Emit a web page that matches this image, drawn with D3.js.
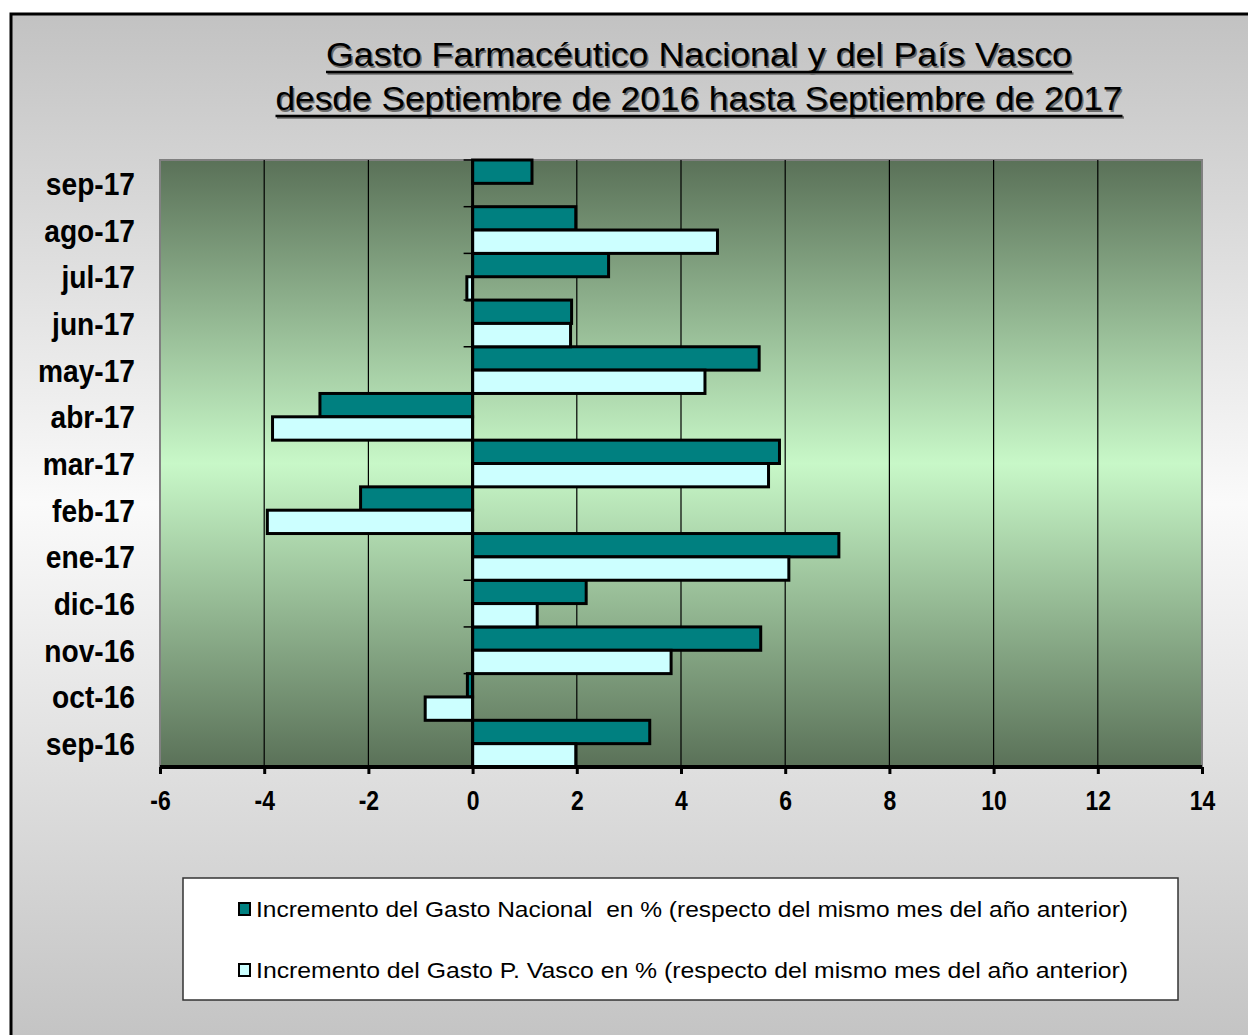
<!DOCTYPE html>
<html lang="es">
<head>
<meta charset="UTF-8">
<title>Gasto Farmacéutico</title>
<script src="https://d3js.org/d3.v7.min.js"></script>
<style>
    body { margin: 0; padding: 0; background: #ffffff; }
    svg { display: block; font-family: 'Liberation Sans', Arial, sans-serif; }
</style>
</head>
<body>
<svg width="1248" height="1035"></svg>
<script>
    // months, chronological order (drawn bottom to top)
    const months = ["sep-16", "oct-16", "nov-16", "dic-16", "ene-17", "feb-17", "mar-17",
                    "abr-17", "may-17", "jun-17", "jul-17", "ago-17", "sep-17"];
    const nacional = [3.40, -0.10, 5.53, 2.18, 7.03, -2.15, 5.89, -2.93, 5.50, 1.90, 2.61, 1.98, 1.14];
    const vasco    = [1.98, -0.91, 3.81, 1.24, 6.07, -3.94, 5.68, -3.84, 4.46, 1.88, -0.11, 4.70, 0];
    const xTicks = [-6, -4, -2, 0, 2, 4, 6, 8, 10, 12, 14];
    const seriesNames = [
        "Incremento del Gasto Nacional  en % (respecto del mismo mes del año anterior)",
        "Incremento del Gasto P. Vasco en % (respecto del mismo mes del año anterior)"
    ];
    const titleLines = [
        "Gasto Farmacéutico Nacional y del País Vasco",
        "desde Septiembre de 2016 hasta Septiembre de 2017"
    ];

    const colors = ["#008080", "#ccffff"];

    const svg = d3.select("svg");
    const W = 1248, H = 1035;
    const plot = { left: 160, right: 1202, top: 160, bottom: 767 };

    const defs = svg.append("defs");
    const bg = defs.append("linearGradient").attr("id", "bg")
        .attr("x1", 0).attr("y1", 0).attr("x2", 0).attr("y2", 1);
    bg.append("stop").attr("offset", "0%").attr("stop-color", "#c2c2c2");
    bg.append("stop").attr("offset", "48%").attr("stop-color", "#fafafa");
    bg.append("stop").attr("offset", "100%").attr("stop-color", "#c4c4c4");

    const pg = defs.append("linearGradient").attr("id", "pg")
        .attr("x1", 0).attr("y1", 0).attr("x2", 0).attr("y2", 1);
    pg.append("stop").attr("offset", "0%").attr("stop-color", "#5a7158");
    pg.append("stop").attr("offset", "50%").attr("stop-color", "#c8f8c8");
    pg.append("stop").attr("offset", "100%").attr("stop-color", "#5a7158");

    // outer chart area
    svg.append("rect").attr("width", W).attr("height", H).attr("fill", "#ffffff");
    svg.append("rect").attr("x", 10).attr("y", 14).attr("width", W - 10).attr("height", H - 14)
        .attr("fill", "url(#bg)");
    svg.append("path").attr("d", `M11,${H} V14 H${W}`)
        .attr("fill", "none").attr("stroke", "#000").attr("stroke-width", 3);

    // title
    const titleY = [66, 110];
    const titleW = [746, 847];
    titleLines.forEach((t, i) => {
        [["#6a6a6a", 1.5], ["#000", 0]].forEach(([c, off]) => {
            svg.append("text")
                .attr("x", 699 + off).attr("y", titleY[i] + off)
                .attr("text-anchor", "middle")
                .attr("font-size", 34)
                .attr("textLength", titleW[i]).attr("lengthAdjust", "spacingAndGlyphs")
                .attr("fill", c)
                .text(t);
            svg.append("line")
                .attr("x1", 699 - titleW[i] / 2 + off).attr("x2", 699 + titleW[i] / 2 + off)
                .attr("y1", titleY[i] + 6 + off).attr("y2", titleY[i] + 6 + off)
                .attr("stroke", c).attr("stroke-width", 2.5);
        });
    });

    const x = d3.scaleLinear().domain([-6, 14]).range([plot.left, plot.right]);
    const y = d3.scaleBand().domain(months.slice().reverse()).range([plot.top, plot.bottom]).padding(0);
    const ySub = d3.scaleBand().domain([0, 1]).range([0, y.bandwidth()]).padding(0);

    // plot area
    svg.append("rect")
        .attr("x", plot.left).attr("y", plot.top)
        .attr("width", plot.right - plot.left).attr("height", plot.bottom - plot.top)
        .attr("fill", "url(#pg)");
    svg.append("path")
        .attr("d", `M${plot.left},${plot.bottom} V${plot.top} H${plot.right} V${plot.bottom}`)
        .attr("fill", "none").attr("stroke", "#808080").attr("stroke-width", 2);

    // gridlines
    svg.append("g").selectAll("line")
        .data(xTicks.filter(d => d !== 0 && d !== -6 && d !== 14))
        .join("line")
        .attr("x1", d => x(d)).attr("x2", d => x(d))
        .attr("y1", plot.top).attr("y2", plot.bottom)
        .attr("stroke", "#000").attr("stroke-width", 1.2);

    // bars
    const rows = months.map((m, i) => ({ m, vals: [nacional[i], vasco[i]] }));
    const barG = svg.append("g");
    rows.forEach(r => {
        barG.selectAll(null)
            .data(r.vals.map((v, k) => ({ v, k })))
            .join("rect")
            .attr("x", d => x(Math.min(0, d.v)))
            .attr("width", d => Math.abs(x(d.v) - x(0)))
            .attr("y", d => y(r.m) + ySub(d.k))
            .attr("height", ySub.bandwidth())
            .attr("fill", d => colors[d.k])
            .attr("stroke", "#000").attr("stroke-width", 3)
            .attr("stroke-linejoin", "miter");
    });

    // category axis at zero
    svg.append("line")
        .attr("x1", x(0)).attr("x2", x(0))
        .attr("y1", plot.top).attr("y2", plot.bottom)
        .attr("stroke", "#000").attr("stroke-width", 3);
    const bounds = months.map(m => y(m)).concat([plot.bottom]);
    svg.append("g").selectAll("line").data(bounds).join("line")
        .attr("x1", x(0) - 9).attr("x2", x(0))
        .attr("y1", d => d).attr("y2", d => d)
        .attr("stroke", "#000").attr("stroke-width", 1.5);

    // category labels
    const labG = svg.append("g").attr("transform", "translate(135,0) scale(0.88,1)");
    labG.selectAll("text").data(months).join("text")
        .attr("x", 0)
        .attr("y", d => y(d) + y.bandwidth() / 2)
        .attr("dy", "0.36em")
        .attr("text-anchor", "end")
        .attr("font-size", 32).attr("font-weight", "bold")
        .attr("fill", "#000")
        .text(d => d);

    // value axis
    const xAxis = svg.append("g")
        .attr("transform", `translate(0,${plot.bottom})`)
        .call(d3.axisBottom(x).tickValues(xTicks).tickSize(7).tickPadding(17).tickFormat(d => String(d)));
    xAxis.select(".domain").attr("stroke", "#000").attr("stroke-width", 4)
        .attr("d", `M${plot.left},0H${plot.right}`);
    xAxis.selectAll(".tick line").attr("stroke", "#000").attr("stroke-width", 3);
    xAxis.selectAll(".tick text")
        .attr("font-family", "'Liberation Sans', Arial, sans-serif")
        .attr("font-size", 27).attr("font-weight", "bold").attr("fill", "#000")
        .attr("transform", "scale(0.85,1)");

    // legend
    const leg = svg.append("g");
    leg.append("rect")
        .attr("x", 183).attr("y", 878).attr("width", 995).attr("height", 122)
        .attr("fill", "#ffffff").attr("stroke", "#333").attr("stroke-width", 1.5);
    seriesNames.forEach((name, i) => {
        const cy = 909 + i * 61;
        leg.append("rect")
            .attr("x", 239).attr("y", cy - 6).attr("width", 11).attr("height", 12)
            .attr("fill", colors[i]).attr("stroke", "#000").attr("stroke-width", 2);
        leg.append("text")
            .attr("x", 256).attr("y", cy + 8)
            .attr("font-size", 22).attr("fill", "#000")
            .style("white-space", "pre")
            .attr("textLength", 872).attr("lengthAdjust", "spacingAndGlyphs")
            .text(name);
    });
</script>
</body>
</html>
